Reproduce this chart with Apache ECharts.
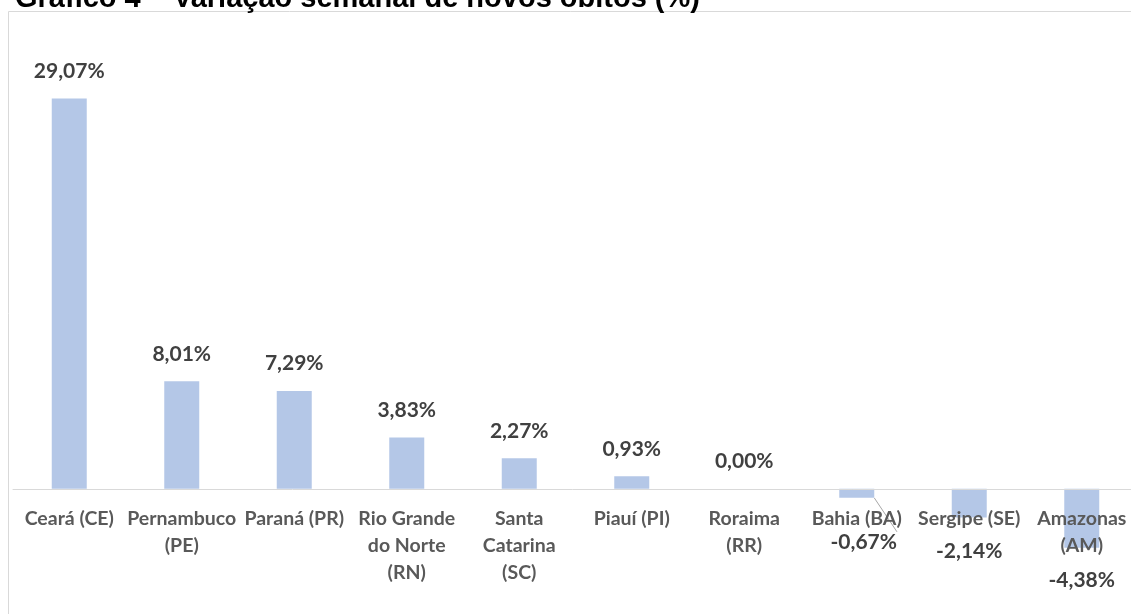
<!DOCTYPE html>
<html>
<head>
<meta charset="utf-8">
<script src="https://cdn.jsdelivr.net/npm/echarts@6/dist/echarts.min.js"></script>
<style>
  html, body { margin: 0; padding: 0; background: #fff; }
  #chart { width: 1131px; height: 614px; }
</style>
</head>
<body>
<div id="chart"></div>
<script>
// estados e variação semanal (%)
var estados = ['Ceará (CE)', 'Pernambuco\n(PE)', 'Paraná (PR)', 'Rio Grande\ndo Norte\n(RN)', 'Santa\nCatarina\n(SC)',
    'Piauí (PI)', 'Roraima\n(RR)', 'Bahia (BA)', 'Sergipe (SE)', 'Amazonas\n(AM)'];
var variacao = [29.07, 8.01, 7.29, 3.83, 2.27, 0.93, 0.00, -0.67, -2.14, -4.38];

var titulo = 'Gráfico 4 – Variação semanal de novos óbitos (%)';

var myChart = echarts.init(document.getElementById('chart'));

// rótulos dos negativos foram empurrados pra baixo no original
var distNeg = { 7: 34, 8: 23, 9: 22 };

var dados = variacao.map(function (v, i) {
    var item = { value: v };
    if (v < 0) {
        item.label = { position: 'bottom', distance: distNeg[i] || 10 };
        if (i === 7) {
            item.label.offset = [7, 0];
            item.labelLine = { show: true };
        }
    }
    return item;
});

var yMin = -5, yMax = 30;
var gridTop = 86, gridH = 470;
// eixo x fica no zero (os rótulos também, como no Excel)
var offZero = -gridH * (-yMin) / (yMax - yMin);

myChart.setOption({
    animation: false,
    graphic: [
        {
            type: 'rect',
            shape: { x: 8.5, y: 11.5, width: 1200, height: 700 },
            style: { fill: 'none', stroke: '#d9d9d9', lineWidth: 1 },
            silent: true
        },
        {
            type: 'text',
            left: 15,
            top: -16,
            style: {
                text: titulo,
                font: 'bold 29px "Liberation Sans", Arial, sans-serif',
                fill: '#000'
            }
        }
    ],
    grid: { left: 13, right: -7, top: gridTop, height: gridH, outerBoundsMode: 'none', containLabel: false },
    xAxis: {
        type: 'category',
        data: estados,
        offset: offZero,
        z: 10,
        axisLine: { show: true, onZero: false, lineStyle: { color: '#d9d9d9', width: 1 } },
        axisTick: { show: false },
        axisLabel: {
            interval: 0,
            margin: 16,
            color: '#595959',
            fontFamily: 'Lato',
            fontWeight: 'bold',
            fontSize: 19.5,
            lineHeight: 27
        }
    },
    yAxis: {
        type: 'value',
        min: yMin,
        max: yMax,
        show: false,
        splitLine: { show: false }
    },
    series: [{
        type: 'bar',
        data: dados,
        barWidth: 35,
        itemStyle: { color: '#b4c7e7' },
        label: {
            show: true,
            position: 'top',
            distance: 17,
            color: '#404040',
            fontFamily: 'Lato',
            fontWeight: 'bold',
            fontSize: 21,
            formatter: function (p) {
                return p.value.toFixed(2).replace('.', ',') + '%';
            }
        },
        labelLine: { lineStyle: { color: '#a6a6a6', width: 1 } }
    }]
});
</script>
</body>
</html>
